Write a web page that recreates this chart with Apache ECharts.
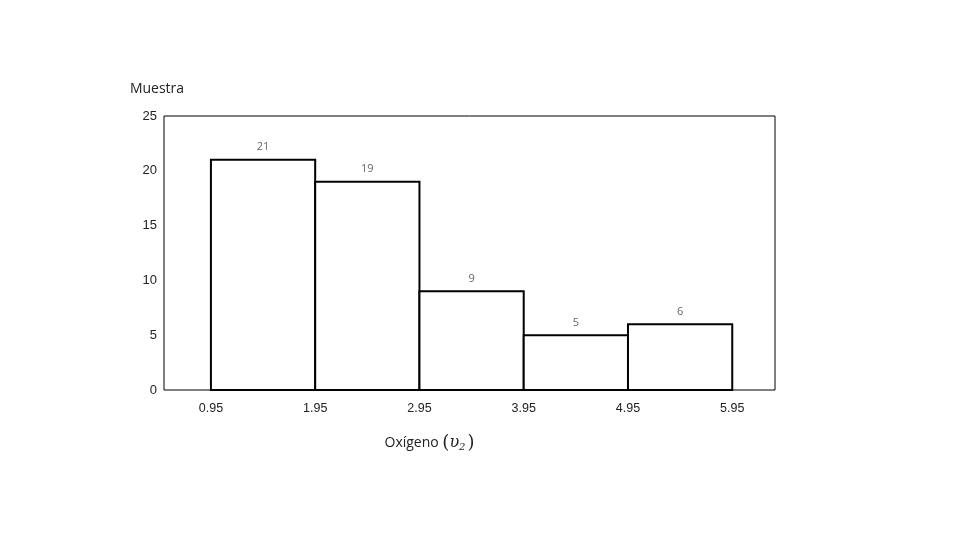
<!DOCTYPE html>
<html>
<head>
<meta charset="utf-8">
<script src="https://cdn.jsdelivr.net/npm/echarts@6/dist/echarts.min.js"></script>
<style>html,body{margin:0;padding:0;background:#fff}#c{width:960px;height:540px}</style>
</head>
<body>
<div id="c"></div>
<script>
const binEdges = [0.95, 1.95, 2.95, 3.95, 4.95, 5.95];
const counts = [21, 19, 9, 5, 6];
const xTickLabels = ['0.95', '1.95', '2.95', '3.95', '4.95', '5.95'];
const yTicks = [0, 5, 10, 15, 20, 25];

const seriesData = counts.map((c, i) => [binEdges[i], binEdges[i + 1], c]);

const chart = echarts.init(document.getElementById('c'));
chart.setOption({
  animation: false,
  backgroundColor: '#fff',
  grid: { left: 164, right: 185, top: 116, bottom: 150, show: true, borderColor: '#000', borderWidth: 1, backgroundColor: 'transparent' },
  xAxis: {
    type: 'value', min: 0.5, max: 6.36,
    axisLine: { show: false }, axisTick: { show: false }, splitLine: { show: false },
    axisLabel: {
      customValues: binEdges,
      formatter: v => xTickLabels[binEdges.findIndex(e => Math.abs(e - v) < 1e-6)] || '',
      color: '#222', fontFamily: 'Liberation Sans, Arial', fontSize: 12.5, margin: 12
    },
    name: 'Oxígeno {s|(}{u|υ}{n|2}{s|)}',
    nameLocation: 'middle', nameGap: 44,
    nameTextStyle: {
      color: '#222', fontFamily: 'Open Sans', fontSize: 14, padding: [0, 80, 0, 0],
      rich: {
        s: { fontFamily: 'DejaVu Serif', fontSize: 18, color: '#222' },
        u: { fontFamily: 'DejaVu Serif', fontStyle: 'italic', fontSize: 16, color: '#222' },
        n: { fontFamily: 'DejaVu Serif', fontStyle: 'italic', fontSize: 10, color: '#222', padding: [8, 2, 0, 0] }
      }
    }
  },
  yAxis: {
    type: 'value', min: 0, max: 25, interval: 5,
    axisLine: { show: false }, axisTick: { show: false }, splitLine: { show: false },
    axisLabel: { color: '#222', fontFamily: 'Liberation Sans, Arial', fontSize: 13, margin: 7 },
    name: 'Muestra', nameLocation: 'end', nameGap: 20,
    nameTextStyle: { color: '#222', fontFamily: 'Open Sans', fontSize: 14, align: 'center', padding: [0, 14, 0, 0] }
  },
  series: [{
    type: 'custom',
    data: seriesData,
    clip: false,
    renderItem: function (params, api) {
      const x0 = api.value(0), x1 = api.value(1), y = api.value(2);
      const p0 = api.coord([x0, y]);
      const p1 = api.coord([x1, 0]);
      return {
        type: 'group',
        children: [
          { type: 'rect', shape: { x: p0[0], y: p0[1], width: p1[0] - p0[0], height: p1[1] - p0[1] },
            style: { fill: '#fff', stroke: '#000', lineWidth: 2 } },
          { type: 'text', x: (p0[0] + p1[0]) / 2, y: p0[1] - 7,
            style: { text: String(y), fill: '#666', font: '11px "Open Sans"', align: 'center', verticalAlign: 'bottom' } }
        ]
      };
    }
  }]
});
</script>
</body>
</html>
